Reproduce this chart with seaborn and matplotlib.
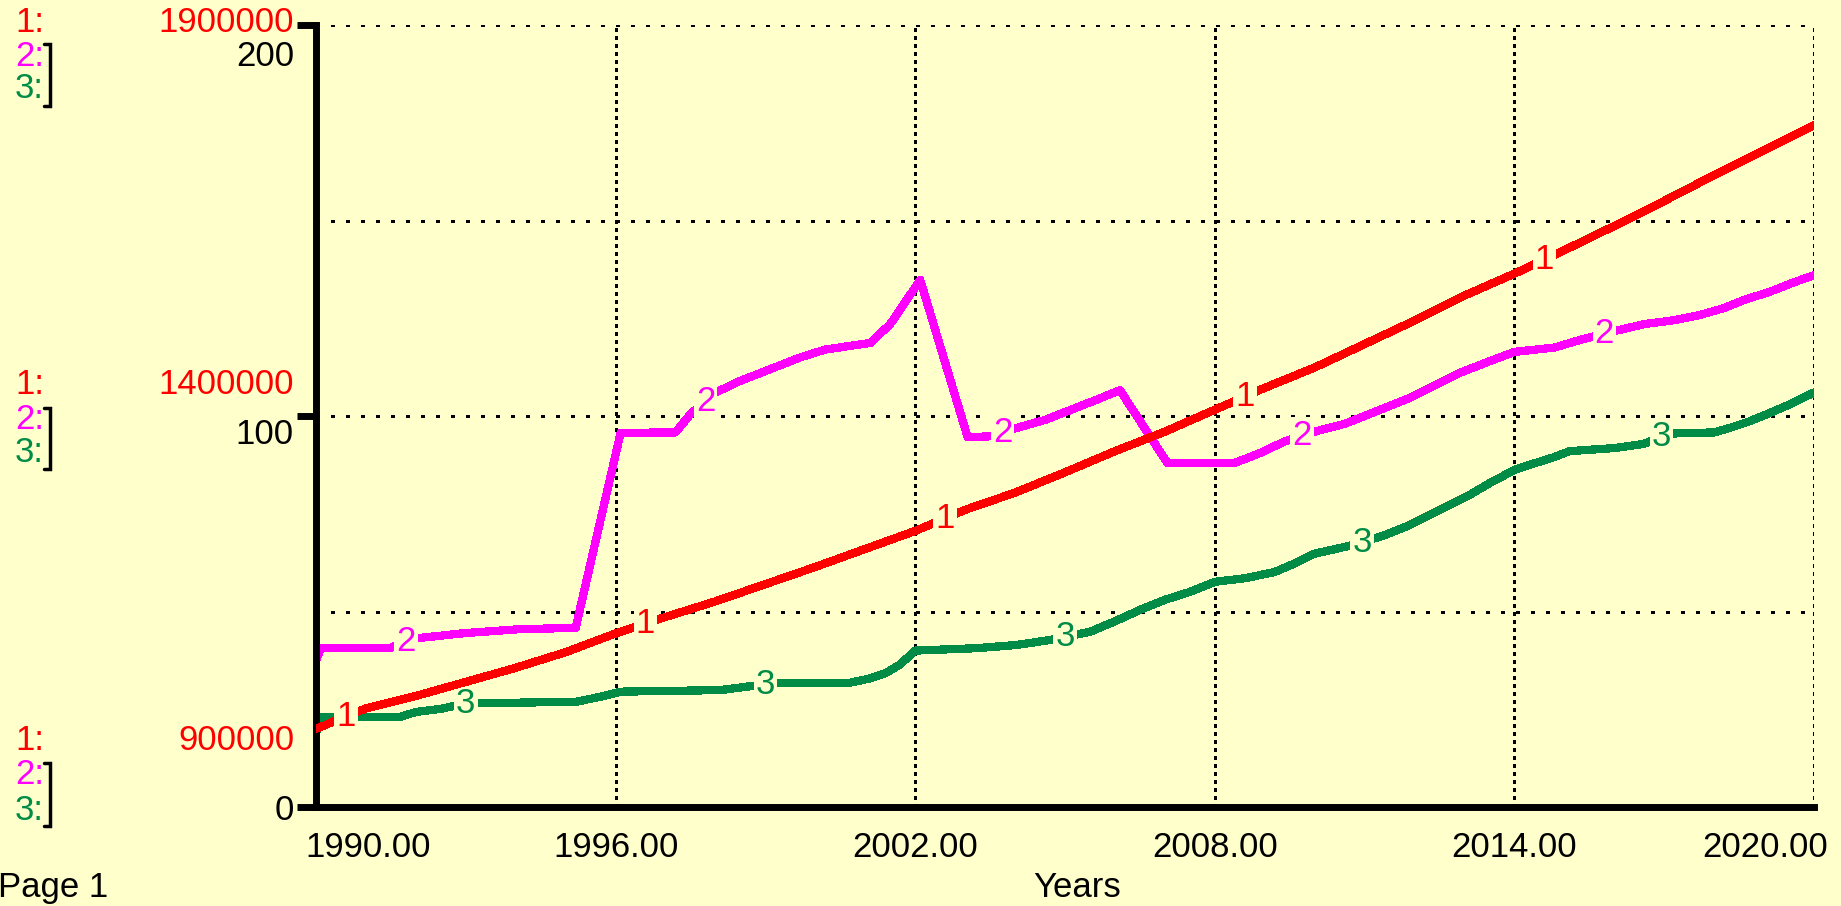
import numpy as np
import matplotlib
matplotlib.use("Agg")
import matplotlib.pyplot as plt
import matplotlib.transforms as mtransforms
from matplotlib.lines import Line2D
import seaborn as sns

# --- dades llegides del gràfic ---
# sèrie 1 (vermella), escala pròpia 900000 .. 1900000, valors anuals
anys_1 = list(range(1990, 2021))
serie_1 = [1000000, 1026000, 1042000, 1060000, 1078000, 1098000, 1122000,
           1143000, 1163000, 1185000, 1207000, 1230000, 1253000, 1280000,
           1302000, 1328000, 1355000, 1380000, 1408000, 1436000, 1462000,
           1492000, 1522000, 1554000, 1582000, 1612000, 1643000, 1675000,
           1708000, 1740000, 1772000]

# sèrie 2 (magenta), escala 0 .. 200
temps_2 = [1990.0, 1990.1, 1991.5, 1991.9, 1993.0, 1994.1, 1995.2, 1996.1,
           1997.2, 1997.5, 1998.0, 1998.5, 1999.1, 1999.7, 2000.2, 2001.1,
           2001.5, 2002.1, 2003.05, 2003.5, 2004.1, 2004.6, 2005.1, 2005.6,
           2006.1, 2007.05, 2008.4, 2008.9, 2009.4, 2010.0, 2010.6, 2011.0,
           2011.9, 2012.4, 2012.9, 2013.5, 2014.0, 2014.8, 2015.3, 2016.0,
           2016.6, 2017.2, 2017.7, 2018.2, 2018.6, 2019.1, 2019.6, 2020.0]
serie_2 = [37.5, 40.7, 40.7, 43.0, 44.5, 45.5, 45.8, 95.7,
           95.8, 100.5, 106.0, 109.0, 112.0, 115.0, 117.0, 118.7,
           123.5, 134.8, 94.6, 94.8, 97.2, 99.0, 101.5, 104.0,
           106.6, 88.0, 88.0, 90.5, 93.5, 96.0, 98.0, 100.0,
           104.6, 107.8, 111.0, 114.0, 116.4, 117.5, 119.4, 121.7,
           123.5, 124.5, 125.8, 127.6, 129.7, 131.7, 134.2, 136.0]

# sèrie 3 (verda), escala 0 .. 200
temps_3 = [1990.0, 1990.1, 1991.7, 1992.0, 1992.5, 1993.0, 1995.2, 1995.7,
           1996.1, 1998.1, 1998.7, 1999.2, 2000.7, 2001.1, 2001.4, 2001.7,
           2002.0, 2003.2, 2004.0, 2004.7, 2005.5, 2006.0, 2006.5, 2007.0,
           2007.5, 2008.0, 2008.6, 2009.2, 2009.6, 2010.0, 2010.7, 2011.4,
           2011.9, 2012.3, 2012.7, 2013.1, 2013.5, 2014.0, 2014.4, 2014.8,
           2015.1, 2016.0, 2016.6, 2017.1, 2018.0, 2018.3, 2018.7, 2019.1,
           2019.5, 2020.0]
serie_3 = [19.0, 23.1, 23.1, 24.3, 25.1, 26.5, 26.9, 28.2,
           29.5, 29.9, 30.9, 31.8, 31.8, 32.9, 34.2, 36.5,
           40.0, 40.6, 41.4, 42.7, 44.8, 47.5, 50.4, 53.0,
           55.0, 57.6, 58.5, 60.1, 62.3, 64.8, 66.8, 69.5,
           72.1, 74.7, 77.2, 79.8, 82.8, 86.2, 87.9, 89.5,
           91.0, 91.8, 92.9, 95.5, 95.8, 96.9, 98.6, 100.7,
           102.9, 106.0]

# posicions de les etiquetes numèriques sobre cada línia
etiq_1 = [1990.6, 1996.6, 2002.6, 2008.6, 2014.6]
etiq_2 = [1991.8, 1997.8, 2003.75, 2009.75, 2015.8]
etiq_3 = [1993.0, 1999.0, 2005.0, 2010.95, 2016.95]

anys_ticks = [1990, 1996, 2002, 2008, 2014, 2020]
anys_text = ["1990.00", "1996.00", "2002.00", "2008.00", "2014.00", "2020.00"]
escala_1 = ["1900000", "1400000", "900000"]
escala_23 = ["200", "100", "0"]

# --- estil ---
FONS = "#FFFFCC"
VERMELL = "#FF0000"
MAGENTA = "#FF00FF"
VERD = "#008C46"
W, H = 1841, 906
GRUIX = 5.2

sns.set_theme(style="white")
plt.rcParams["font.family"] = ["Liberation Sans", "DejaVu Sans"]
plt.rcParams["font.size"] = 25


def fx(px):
    return px / W


def fy(py):
    return 1 - py / H


fig = plt.figure(figsize=(W / 100, H / 100), dpi=100, facecolor=FONS)
ax = fig.add_axes([fx(316), fy(807), (1814 - 316) / W, (807 - 25) / H])
ax.set_facecolor(FONS)

# sèries 2 i 3 a l'eix principal
sns.lineplot(x=temps_3, y=serie_3, ax=ax, color=VERD, linewidth=GRUIX,
             estimator=None, sort=False, legend=False, antialiased=False)
sns.lineplot(x=temps_2, y=serie_2, ax=ax, color=MAGENTA, linewidth=GRUIX,
             estimator=None, sort=False, legend=False, antialiased=False)
ax.set_xlim(1990, 2020)
ax.set_ylim(0, 200)

# sèrie 1 amb la seva escala
ax1 = ax.twinx()
sns.lineplot(x=anys_1, y=serie_1, ax=ax1, color=VERMELL, linewidth=GRUIX,
             estimator=None, sort=False, legend=False, antialiased=False)
ax1.set_ylim(900000, 1900000)
ax1.set_xlim(1990, 2020)
ax1.set_axis_off()

# eixos, marques i quadrícula
for s in ["top", "right"]:
    ax.spines[s].set_visible(False)
for s in ["left", "bottom"]:
    ax.spines[s].set_linewidth(5)
    ax.spines[s].set_color("black")
ax.set_xticks(anys_ticks)
ax.set_yticks([0, 100, 200])
ax.set_yticks([50, 150], minor=True)
ax.tick_params(axis="both", which="major", direction="out", length=14, width=5,
               color="black", labelbottom=False, labelleft=False)
ax.tick_params(axis="y", which="minor", length=0, labelleft=False)
ax.xaxis.grid(True, color="black", linewidth=2.5, linestyle=(0, (1, 1.2)),
              antialiased=False)
ax.yaxis.grid(True, which="both", color="black", linewidth=2.5,
              linestyle=(0, (1, 3.4)), antialiased=False)
ax.set_xlabel("")
ax.set_ylabel("")

# etiquetes de l'eix x
ty = -(831 - 807) / (807 - 25)
for i, (a, t) in enumerate(zip(anys_ticks, anys_text)):
    tr = ax.get_xaxis_transform()
    ha = "center"
    if i == 0:
        ha = "left"
        tr = mtransforms.offset_copy(tr, fig=fig, x=-11, y=0, units="dots")
    elif i == len(anys_ticks) - 1:
        ha = "right"
        tr = mtransforms.offset_copy(tr, fig=fig, x=14, y=0, units="dots")
    ax.text(a, ty, t, transform=tr, ha=ha, va="top", color="black")

# números sobre les línies
for eix, tt, vv, pos, num, col in [(ax1, anys_1, serie_1, etiq_1, "1", VERMELL),
                                    (ax, temps_2, serie_2, etiq_2, "2", MAGENTA),
                                    (ax, temps_3, serie_3, etiq_3, "3", VERD)]:
    for p in pos:
        eix.text(p, np.interp(p, tt, vv), num, color=col, ha="center", va="center",
                 zorder=5, bbox=dict(facecolor=FONS, edgecolor="none", pad=1.5))

# llegenda d'escales a l'esquerra
files = [(22, 56, 88), (385, 420, 453), (741, 775, 810)]
claus = [(43, 107), (407, 470), (762, 827)]
neg_y = [56, 435, 810]
for (y1, y2, y3), (c0, c1), v1, v23, yn in zip(files, claus, escala_1, escala_23, neg_y):
    fig.text(fx(15), fy(y1), "1:", color=VERMELL, ha="left", va="center")
    fig.text(fx(15), fy(y2), "2:", color=MAGENTA, ha="left", va="center")
    fig.text(fx(15), fy(y3), "3:", color=VERD, ha="left", va="center")
    fig.text(fx(294), fy(y1), v1, color=VERMELL, ha="right", va="center")
    fig.text(fx(294), fy(yn), v23, color="black", ha="right", va="center")
    fig.add_artist(Line2D([fx(44), fx(50), fx(50), fx(44)],
                          [fy(c0 + 1), fy(c0 + 1), fy(c1 - 1), fy(c1 - 1)],
                          transform=fig.transFigure, color="black",
                          linewidth=2.5, solid_joinstyle="miter"))

fig.text(fx(1077), fy(897), "Years", color="black", ha="center", va="baseline")
fig.text(fx(-2), fy(897), "Page 1", color="black", ha="left", va="baseline")

fig.savefig("out.png", dpi=100, facecolor=FONS)
